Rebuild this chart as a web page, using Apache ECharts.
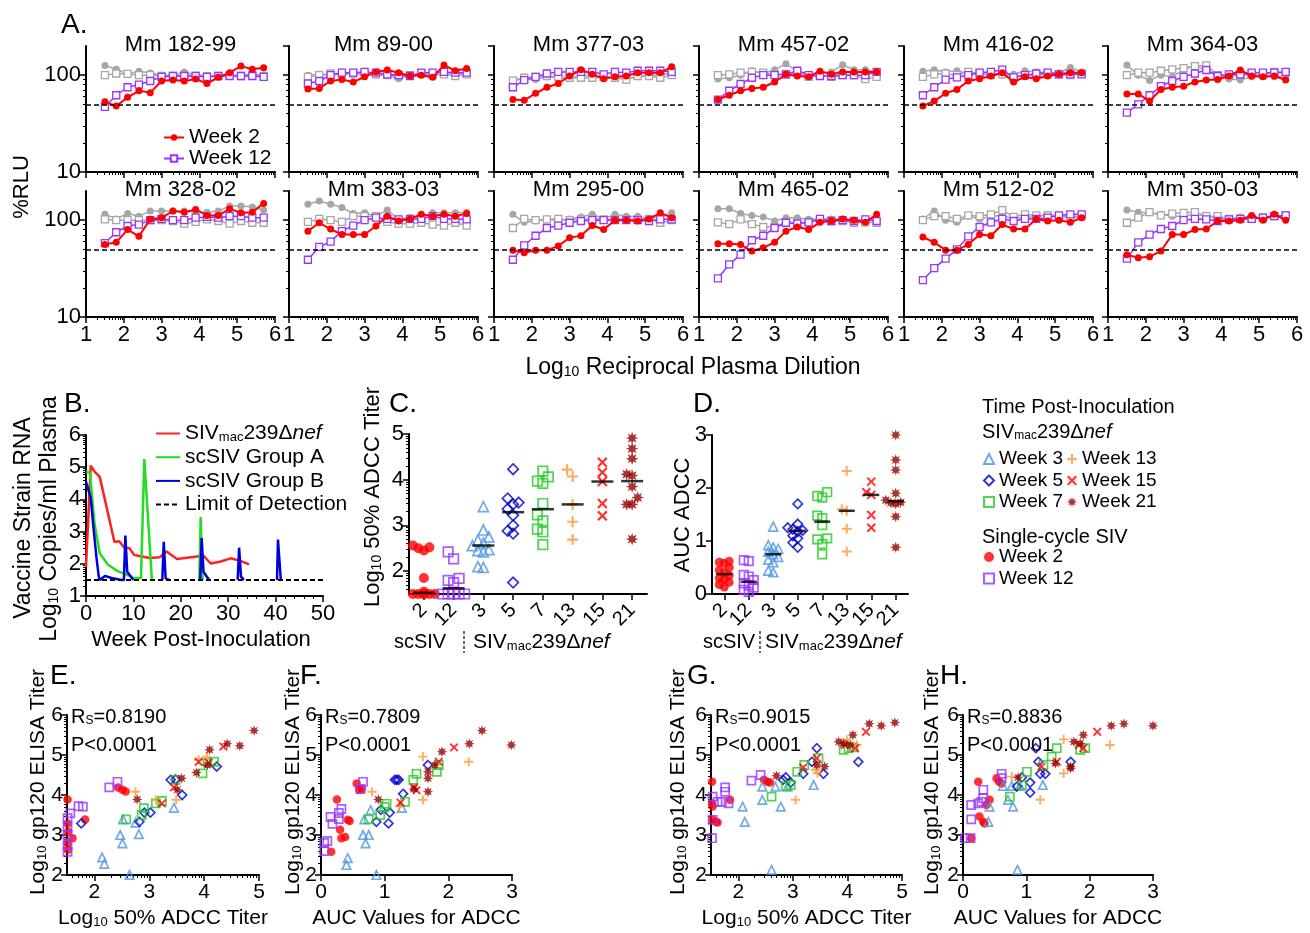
<!DOCTYPE html>
<html>
<head>
<meta charset="UTF-8">
<title>ADCC responses - SIV</title>
<script src="https://cdn.jsdelivr.net/npm/echarts@6/dist/echarts.min.js"></script>
<style>
  html, body { margin: 0; padding: 0; background: #fff; }
  #chart { width: 1310px; height: 933px; }
</style>
</head>
<body>
<div id="chart"></div>
<script>
var FONT = '"Liberation Sans", Arial, sans-serif';

// ---------- A: %RLU vs log10 reciprocal plasma dilution ----------
var animals = ['Mm 182-99', 'Mm 89-00', 'Mm 377-03', 'Mm 457-02', 'Mm 416-02', 'Mm 364-03',
               'Mm 328-02', 'Mm 383-03', 'Mm 295-00', 'Mm 465-02', 'Mm 512-02', 'Mm 350-03'];
var dilutionLog = [1.5, 1.8, 2.1, 2.4, 2.7, 3.0, 3.3, 3.6, 3.9, 4.2, 4.5, 4.8, 5.1, 5.4, 5.7];
var neutCutoff = 50;

var rluWeek2 = [
  [53, 48, 59, 69, 66, 87, 89, 87, 91, 82, 95, 106, 124, 115, 119],
  [72, 73, 87, 90, 85, 96, 108, 113, 106, 98, 100, 95, 127, 111, 117],
  [56, 55, 65, 75, 82, 98, 114, 102, 92, 96, 98, 106, 106, 106, 122],
  [56, 62, 69, 73, 75, 85, 102, 98, 96, 110, 102, 108, 108, 108, 108],
  [48, 54, 65, 71, 87, 92, 98, 106, 85, 96, 92, 98, 102, 106, 106],
  [64, 64, 54, 71, 75, 77, 85, 89, 90, 98, 113, 98, 96, 98, 89],
  [56, 59, 80, 68, 102, 106, 124, 121, 129, 112, 112, 131, 119, 121, 149],
  [77, 94, 81, 71, 71, 71, 87, 110, 98, 103, 115, 110, 115, 110, 117],
  [49, 46, 49, 49, 54, 66, 69, 88, 80, 100, 100, 98, 103, 119, 106],
  [57, 57, 56, 48, 52, 59, 77, 85, 80, 95, 98, 103, 100, 95, 115],
  [67, 59, 49, 49, 56, 71, 69, 90, 81, 81, 103, 98, 100, 95, 106],
  [44, 41, 42, 48, 71, 71, 80, 81, 98, 98, 100, 112, 100, 115, 100]
];
var rluWeek12 = [
  [47, 62, 75, 80, 87, 96, 98, 98, 98, 96, 98, 98, 98, 98, 96],
  [82, 87, 100, 106, 106, 108, 106, 102, 100, 98, 106, 106, 108, 106, 106],
  [75, 89, 96, 104, 108, 108, 108, 108, 102, 108, 106, 111, 111, 111, 108],
  [56, 69, 81, 94, 100, 100, 102, 111, 100, 98, 98, 100, 100, 100, 108],
  [62, 75, 90, 95, 100, 106, 108, 114, 95, 100, 104, 106, 102, 102, 102],
  [41, 50, 62, 77, 87, 96, 104, 113, 98, 102, 102, 106, 106, 106, 108],
  [58, 75, 87, 90, 100, 103, 100, 100, 106, 108, 106, 110, 110, 106, 106],
  [39, 53, 60, 77, 88, 100, 106, 103, 102, 103, 103, 110, 103, 103, 102],
  [39, 55, 69, 83, 88, 94, 98, 100, 100, 100, 100, 100, 98, 102, 102],
  [25, 35, 44, 62, 69, 83, 94, 92, 95, 103, 98, 100, 98, 102, 98],
  [24, 32, 40, 50, 68, 85, 95, 103, 98, 103, 103, 106, 112, 115, 115],
  [40, 59, 71, 81, 87, 100, 103, 102, 98, 102, 103, 103, 106, 110, 112]
];
var rluCtrl2 = [
  [126, 115, 103, 110, 105, 100, 100, 108, 100, 100, 98, 100, 100, 102, 100],
  [100, 102, 100, 104, 102, 104, 100, 100, 92, 100, 102, 100, 104, 106, 104],
  [88, 92, 90, 96, 94, 92, 100, 98, 96, 94, 92, 96, 98, 102, 104],
  [91, 94, 100, 111, 104, 114, 131, 111, 102, 106, 108, 128, 114, 114, 108],
  [110, 114, 108, 111, 104, 108, 106, 100, 102, 111, 108, 106, 106, 120, 108],
  [127, 100, 88, 100, 96, 114, 126, 111, 100, 91, 89, 96, 100, 96, 96],
  [115, 103, 117, 110, 124, 124, 124, 124, 121, 121, 124, 140, 140, 137, 127],
  [146, 158, 146, 135, 117, 119, 110, 127, 102, 106, 106, 119, 119, 119, 121],
  [115, 95, 98, 103, 98, 103, 108, 115, 103, 115, 110, 110, 103, 110, 119],
  [131, 131, 117, 112, 108, 98, 106, 106, 102, 103, 103, 102, 100, 98, 103],
  [103, 124, 100, 95, 110, 103, 110, 112, 103, 108, 108, 115, 110, 110, 110],
  [127, 121, 119, 115, 110, 110, 115, 110, 106, 103, 108, 106, 106, 110, 108]
];
var rluCtrl12 = [
  [100, 104, 103, 100, 100, 98, 98, 100, 98, 97, 98, 99, 98, 100, 98],
  [96, 100, 104, 102, 104, 104, 102, 100, 98, 100, 104, 100, 102, 98, 102],
  [88, 94, 96, 98, 96, 94, 94, 94, 96, 94, 90, 98, 98, 94, 100],
  [100, 102, 106, 108, 106, 102, 102, 106, 96, 100, 96, 100, 100, 91, 96],
  [96, 102, 104, 100, 108, 104, 100, 102, 95, 100, 100, 102, 102, 100, 104],
  [100, 106, 106, 111, 115, 118, 124, 126, 100, 98, 100, 102, 100, 108, 106],
  [102, 100, 100, 100, 100, 100, 98, 92, 96, 102, 98, 92, 98, 94, 94],
  [96, 103, 100, 96, 110, 110, 110, 96, 92, 92, 94, 90, 88, 94, 88],
  [83, 103, 100, 102, 103, 100, 102, 103, 102, 102, 102, 102, 103, 94, 100],
  [95, 91, 102, 91, 85, 85, 95, 94, 95, 100, 98, 98, 94, 95, 94],
  [100, 110, 110, 103, 112, 110, 115, 127, 108, 115, 112, 112, 110, 106, 110],
  [94, 106, 121, 112, 117, 119, 121, 110, 110, 103, 103, 103, 106, 110, 112]
];

// ---------- B: vaccine strain RNA (log10 copies/ml) vs week ----------
var bDnef = [[0, 1.9], [1, 5.05], [1.8, 4.86], [2.9, 4.7], [6, 2.68], [7, 2.7], [8.1, 2.5], [9.2, 2.48],
  [10.2, 2.27], [11.3, 2.24], [13.4, 2.18], [15.5, 2.2], [17, 2.38], [19.2, 2.15], [21.3, 2.19],
  [24.8, 2.25], [26.3, 2.01], [28.4, 2.07], [30.5, 2.17], [32.6, 2.09], [34.4, 1.98]];
var bGroupA = [[0, 4.85], [0.8, 4.85], [1.5, 3.75], [1.8, 3.25], [2.9, 2.33], [4.6, 1.98], [6.7, 1.77],
  [8.8, 1.65], [9.9, 1.57], [11.6, 1.55], [12.3, 5.25], [13.9, 1.5], null,
  [23.9, 1.5], [24.2, 3.45], [24.6, 1.5]];
var bGroupB = [[0, 4.55], [0.3, 4.6], [1, 4.05], [1.5, 3.25], [2.2, 2.2], [2.7, 1.6], [2.9, 1.5], [4, 1.62],
  [5.4, 1.56], [7.5, 1.5], [8, 1.5], [8.3, 2.88], [8.7, 1.75], [10, 1.5], null,
  [16.1, 1.5], [16.4, 2.68], [16.8, 1.55], [17.5, 1.5], null,
  [24.1, 1.5], [24.4, 2.8], [24.8, 1.75], [25.5, 1.6], [26, 1.5], null,
  [32, 1.5], [32.3, 2.5], [32.7, 1.6], [33.3, 1.5], null,
  [40.3, 1.5], [40.5, 2.75], [40.8, 2.75], [41.1, 1.5]];
var lod = 1.5;

// ---------- groups (C-H) ----------
var groupKeys = ['sc2', 'sc12', 'd3', 'd5', 'd7', 'd13', 'd15', 'd21'];
var groupLabels = ['Week 2', 'Week 12', 'Week 3', 'Week 5', 'Week 7', 'Week 13', 'Week 15', 'Week 21'];
var weekCats = ['2', '12', '3', '5', '7', '13', '15', '21'];

// C: log10 50% ADCC titer
var cTiter = [
  [2.56, 2.52, 2.5, 2.45, 1.85, 1.55, 1.5, 1.5, 1.5, 1.5, 1.5, 1.5],
  [2.42, 2.27, 1.84, 1.8, 1.75, 1.5, 1.5, 1.5, 1.5, 1.5],
  [3.41, 2.9, 2.75, 2.68, 2.62, 2.56, 2.47, 2.45, 2.42, 2.1, 2.08],
  [4.23, 3.59, 3.5, 3.46, 3.36, 3.22, 3.0, 2.88, 2.82, 1.75],
  [4.19, 4.06, 3.97, 3.92, 3.48, 3.23, 3.1, 2.92, 2.86, 2.58],
  [4.22, 4.07, 3.46, 3.08, 2.69],
  [4.38, 4.16, 3.96, 3.48, 3.21],
  [4.91, 4.68, 4.46, 4.12, 4.09, 3.85, 3.61, 3.46, 3.46, 2.7]
];
// D: AUC ADCC
var dAUC = [
  [0.62, 0.6, 0.58, 0.5, 0.45, 0.4, 0.35, 0.3, 0.28, 0.22, 0.18, 0.13],
  [0.64, 0.62, 0.36, 0.33, 0.26, 0.2, 0.16, 0.12, 0.08, 0.04],
  [1.27, 0.92, 0.88, 0.85, 0.8, 0.75, 0.7, 0.65, 0.6, 0.44, 0.41],
  [1.7, 1.32, 1.25, 1.22, 1.2, 1.18, 1.1, 1.05, 0.97, 0.88],
  [1.92, 1.85, 1.82, 1.48, 1.43, 1.3, 1.05, 1.03, 0.94, 0.75],
  [2.32, 1.6, 1.57, 1.23, 0.8],
  [2.12, 1.92, 1.87, 1.49, 1.25],
  [3.0, 2.53, 2.34, 1.9, 1.77, 1.73, 1.72, 1.7, 1.46, 0.88]
];

// E: gp120 ELISA vs log10 ADCC titer
var ePts = [
  [[1.51, 3.89], [1.51, 3.29], [1.52, 3.08], [1.6, 2.92], [1.52, 2.63], [1.51, 2.79], [1.83, 3.39], [2.43, 4.19], [2.51, 4.13], [2.57, 4.09]],
  [[1.56, 3.54], [1.51, 3.42], [1.51, 3.21], [1.51, 3.0], [1.51, 2.75], [1.51, 2.58], [1.71, 3.72], [1.79, 3.71], [2.27, 4.19], [2.42, 4.33]],
  [[2.14, 2.44], [2.18, 2.28], [2.47, 3.0], [2.51, 2.79], [2.52, 3.39], [2.64, 2.0], [2.81, 3.02], [2.75, 3.31], [3.45, 3.68]],
  [[1.76, 3.29], [2.82, 3.33], [2.91, 3.56], [3.02, 3.56], [3.39, 4.38], [3.48, 4.39], [3.6, 4.0], [4.23, 4.71]],
  [[2.58, 3.39], [2.86, 3.5], [2.9, 3.67], [3.12, 3.79], [3.23, 3.85], [3.48, 4.38], [3.97, 4.54], [4.06, 4.81], [4.18, 4.83]],
  [[2.75, 4.08], [3.12, 3.88], [3.49, 3.88], [3.9, 4.88], [4.05, 4.96]],
  [[3.23, 3.79], [3.45, 4.19], [3.9, 4.83], [4.08, 4.81], [4.35, 5.21]],
  [[2.78, 3.89], [3.51, 4.13], [3.59, 4.42], [3.86, 4.56], [4.06, 4.75], [4.1, 5.13], [4.42, 5.28], [4.65, 5.23], [4.91, 5.61]]
];
// F: gp120 ELISA vs AUC
var fPts = [
  [[0.25, 3.89], [0.3, 3.13], [0.32, 2.92], [0.38, 2.95], [0.42, 3.38], [0.45, 3.35], [0.16, 2.58], [0.56, 4.29], [0.6, 4.13], [0.64, 4.15]],
  [[0.05, 2.8], [0.1, 2.85], [0.05, 2.6], [0.15, 3.45], [0.18, 3.28], [0.28, 3.55], [0.32, 3.65], [0.28, 3.4], [0.62, 4.15], [0.66, 4.33]],
  [[0.42, 2.42], [0.4, 2.25], [0.66, 3.0], [0.7, 2.79], [0.68, 3.39], [0.87, 2.0], [0.75, 3.0], [0.78, 3.62], [1.27, 3.68]],
  [[0.87, 3.33], [0.94, 3.63], [1.06, 3.29], [1.08, 3.56], [1.16, 4.38], [1.19, 4.38], [1.22, 4.38], [1.29, 4.03], [1.68, 4.75]],
  [[0.75, 3.39], [0.93, 3.5], [1.0, 3.7], [1.03, 3.78], [1.32, 3.83], [1.45, 4.38], [1.5, 4.53], [1.82, 4.58], [1.85, 4.75]],
  [[0.8, 4.08], [1.23, 3.72], [1.6, 3.88], [1.6, 4.96], [2.32, 4.83]],
  [[1.25, 3.81], [1.46, 4.19], [1.85, 4.83], [2.09, 5.19], [1.5, 4.12]],
  [[0.9, 3.89], [1.46, 4.15], [1.68, 4.08], [1.68, 4.42], [1.68, 4.58], [1.79, 4.75], [1.9, 5.08], [2.33, 5.28], [2.53, 5.61], [2.99, 5.25]]
];
// G: gp140 ELISA vs log10 ADCC titer
var gPts = [
  [[1.52, 4.33], [1.52, 3.79], [1.53, 3.71], [1.59, 3.33], [1.62, 3.31], [1.85, 3.88], [2.47, 4.38], [2.53, 4.33], [2.58, 4.31], [1.53, 3.38]],
  [[1.52, 2.92], [1.53, 3.38], [1.53, 3.96], [1.62, 3.83], [1.7, 3.83], [1.76, 4.19], [1.76, 4.08], [1.82, 3.79], [2.24, 4.36], [2.41, 4.5]],
  [[2.08, 3.71], [2.12, 3.33], [2.44, 4.21], [2.44, 3.88], [2.61, 2.13], [2.78, 3.71], [2.68, 4.21], [2.9, 4.21], [3.38, 4.25]],
  [[2.87, 4.44], [2.96, 4.31], [3.19, 4.53], [3.35, 4.83], [3.44, 5.17], [3.56, 4.53], [4.2, 4.83], [2.82, 4.38]],
  [[2.61, 3.96], [2.87, 4.22], [2.96, 4.25], [3.08, 4.58], [3.21, 4.75], [3.47, 4.92], [3.93, 5.13], [4.02, 5.17], [4.11, 5.19]],
  [[3.05, 3.88], [3.42, 4.63], [3.99, 5.38], [4.17, 5.25], [3.45, 4.55]],
  [[3.19, 4.69], [3.44, 4.92], [4.14, 5.17], [4.34, 5.58], [3.95, 5.25]],
  [[2.7, 4.48], [3.44, 4.75], [3.58, 4.71], [3.84, 5.33], [3.93, 5.29], [4.05, 5.25], [4.1, 5.5], [4.4, 5.78], [4.62, 5.73], [4.87, 5.81]]
];
// H: gp140 ELISA vs AUC
var hPts = [
  [[0.24, 4.33], [0.26, 3.46], [0.32, 3.33], [0.34, 3.29], [0.42, 3.88], [0.53, 4.42], [0.57, 4.33], [0.61, 4.29], [0.37, 3.75], [0.13, 2.92]],
  [[0.03, 2.92], [0.12, 2.92], [0.13, 3.39], [0.13, 3.75], [0.24, 3.79], [0.32, 4.13], [0.32, 3.92], [0.29, 3.83], [0.61, 4.53], [0.61, 4.42]],
  [[0.42, 3.71], [0.4, 3.33], [0.63, 4.23], [0.71, 3.88], [0.77, 4.23], [0.79, 3.71], [0.86, 2.13], [0.9, 4.23], [1.26, 4.25]],
  [[0.85, 4.21], [0.93, 4.44], [1.06, 4.31], [1.06, 4.06], [1.15, 5.17], [1.19, 4.83], [1.22, 4.53], [1.3, 4.53], [1.7, 4.83]],
  [[0.74, 3.96], [0.93, 4.25], [1.01, 4.58], [1.27, 4.75], [1.4, 4.96], [1.48, 5.17], [1.85, 5.13], [1.93, 5.17]],
  [[0.77, 4.46], [1.22, 3.88], [1.59, 5.39], [1.59, 4.54], [2.32, 5.25]],
  [[1.24, 4.71], [1.48, 4.83], [1.9, 5.17], [2.12, 5.58], [1.83, 5.25]],
  [[0.87, 4.44], [1.46, 4.79], [1.7, 4.67], [1.75, 5.33], [1.85, 5.29], [1.9, 5.5], [2.34, 5.73], [2.54, 5.78], [3.0, 5.73], [1.7, 4.71]]
];
var rsValues = ['0.8190', '0.7809', '0.9015', '0.8836'];
var pValues = ['P<0.0001', 'P<0.0001', 'P<0.0001', 'P<0.0001'];

// ---------- styles ----------
var RED = '#ff0000', PURPLE = '#9933ff', GRAY = '#a6a6a6';
var PLUS = 'path://M-1,-5L1,-5L1,-1L5,-1L5,1L1,1L1,5L-1,5L-1,1L-5,1L-5,-1L-1,-1Z';
var CROSS = 'path://M-5,-3.5L-3.5,-5L0,-1.5L3.5,-5L5,-3.5L1.5,0L5,3.5L3.5,5L0,1.5L-3.5,5L-5,3.5L-1.5,0Z';
function starPath() {
  var d = '';
  for (var k = 0; k < 16; k++) {
    var r = k % 2 ? 0.5 : 1, a = k * Math.PI / 8;
    d += (k ? 'L' : 'M') + (r * Math.sin(a)).toFixed(3) + ',' + (-r * Math.cos(a)).toFixed(3);
  }
  return 'path://' + d + 'Z';
}
var STAR = starPath();
var groupColors = ['#ff0000', '#9933ff', '#4f95e3', '#0000cc', '#22cc22', '#ff9933', '#ff0000', '#990000'];
var groupSymbols = ['circle', 'rect', 'triangle', 'diamond', 'rect', PLUS, CROSS, STAR];
var groupFilled = [true, false, false, false, false, true, true, true];
var groupScale = [1, 0.95, 1, 1.05, 0.95, 1.1, 1.05, 1.25];

var grids = [], xAxes = [], yAxes = [], series = [], graphics = [], legends = [];

function lbl(fs, extra) {
  var o = { color: '#000', fontSize: fs, fontFamily: FONT, margin: 5 };
  for (var k in extra) o[k] = extra[k];
  return o;
}
function tick(extra) {
  var o = { show: true, length: 6, inside: false, lineStyle: { color: '#000', width: 1.5 } };
  for (var k in extra) o[k] = extra[k];
  return o;
}
function logMinor(lo, hi) {
  var v = [];
  for (var k = Math.floor(lo); k < hi; k++) {
    for (var m = 2; m <= 9; m++) {
      var t = k + Math.log10(m);
      if (t > lo + 1e-6 && t < hi - 1e-6) v.push(t);
    }
  }
  return v;
}
function minorAxis(gi, spec, pos) {
  return {
    type: 'value', gridIndex: gi, min: spec.min, max: spec.max, position: pos,
    axisLine: { show: false, onZero: false }, axisLabel: { show: false }, splitLine: { show: false },
    axisTick: { show: true, length: 3, customValues: spec.values, lineStyle: { color: '#000', width: 1 } }
  };
}
function addPanel(box, xOpt, yOpt, xMinor, yMinor) {
  var gi = grids.length;
  grids.push({ left: box[0], top: box[1], width: box[2], height: box[3], containLabel: false, outerBoundsMode: 'none' });
  var base = function () {
    return { axisLine: { show: true, onZero: false, lineStyle: { color: '#000', width: 2 } },
             axisTick: tick(), splitLine: { show: false } };
  };
  var xi = xAxes.length, x = base(), y = base(), k;
  for (k in xOpt) x[k] = xOpt[k];
  x.gridIndex = gi; x.position = 'bottom';
  xAxes.push(x);
  if (xMinor) xAxes.push(minorAxis(gi, xMinor, 'bottom'));
  var yi = yAxes.length;
  for (k in yOpt) y[k] = yOpt[k];
  y.gridIndex = gi; y.position = 'left';
  yAxes.push(y);
  if (yMinor) yAxes.push(minorAxis(gi, yMinor, 'left'));
  return { gi: gi, xi: xi, yi: yi };
}

function rich(fs) {
  var s = Math.round(fs * 0.62);
  return {
    n: { fontSize: fs, fontFamily: FONT, fill: '#000', color: '#000' },
    s: { fontSize: s, fontFamily: FONT, fill: '#000', color: '#000', verticalAlign: 'bottom', lineHeight: fs },
    i: { fontSize: fs, fontFamily: FONT, fill: '#000', color: '#000', fontStyle: 'italic' }
  };
}
function txt(x, y, text, fs, opt) {
  opt = opt || {};
  graphics.push({
    type: 'text', x: x, y: y, rotation: opt.rot || 0, z: 100, silent: true,
    style: { text: text, fontSize: fs, fontFamily: FONT, fill: '#000',
             align: opt.align || 'left', verticalAlign: 'middle', rich: rich(fs) }
  });
}
var LOG10 = function (rest) { return '{n|Log}{s|10}{n|' + rest + '}'; };
var SIVDNEF = '{n|SIV}{s|mac}{n|239Δ}{i|nef}';

// ================= Panel A =================
var aLeft = [86, 289, 494, 699, 904, 1108], aTop = [46, 191], aW = 189, aH = 126;
var yLogMinor = { min: 1, max: Math.log10(200), values: logMinor(1, Math.log10(200)) };
function pairs(vals) { return vals.map(function (v, i) { return [dilutionLog[i], v]; }); }
function lineSer(name, p, data, color, symbol, filled, lw, z) {
  return {
    type: 'line', name: name, xAxisIndex: p.xi, yAxisIndex: p.yi, data: data,
    symbol: symbol, symbolSize: 7, showSymbol: true, animation: false, z: z, clip: false,
    lineStyle: { color: color, width: lw },
    itemStyle: filled ? { color: color } : { color: '#fff', borderColor: color, borderWidth: 1.3 }
  };
}
animals.forEach(function (name, idx) {
  var row = idx < 6 ? 0 : 1, col = idx % 6;
  var p = addPanel([aLeft[col], aTop[row], aW, aH],
    { type: 'value', min: 1, max: 6, interval: 1, axisLabel: lbl(22, { show: row === 1, margin: 7 }) },
    { type: 'log', logBase: 10, min: 10, max: 200,
      axisLabel: lbl(22, { show: col === 0, showMaxLabel: false, margin: 5 }) },
    { min: 1, max: 6, values: logMinor(1, 6) }, yLogMinor);
  series.push(lineSer('ctl2', p, pairs(rluCtrl2[idx]), GRAY, 'circle', true, 1.5, 2));
  series.push(lineSer('ctl12', p, pairs(rluCtrl12[idx]), GRAY, 'rect', false, 1.5, 2));
  series.push(lineSer('Week 12', p, pairs(rluWeek12[idx]), PURPLE, 'rect', false, 1.5, 3));
  var red = lineSer('Week 2', p, pairs(rluWeek2[idx]), RED, 'circle', true, 2, 4);
  red.markLine = { silent: true, symbol: ['none', 'none'], label: { show: false }, animation: false,
    lineStyle: { type: [5, 3], color: '#000', width: 1.5 }, data: [{ yAxis: neutCutoff }] };
  series.push(red);
  txt(aLeft[col] + aW / 2, row === 0 ? 45 : 190, name, 22, { align: 'center' });
});
legends.push({
  left: 163, top: 127, orient: 'vertical', itemWidth: 20, itemHeight: 8, itemGap: 0, padding: 0,
  selectedMode: false, data: ['Week 2', 'Week 12'],
  textStyle: { fontSize: 21, fontFamily: FONT, color: '#000', lineHeight: 18.5 }
});
txt(61, 25, 'A.', 28);
txt(22, 187, '%RLU', 22, { align: 'center', rot: Math.PI / 2 });
txt(693, 368, LOG10(' Reciprocal Plasma Dilution'), 23, { align: 'center' });

// ================= Panel B =================
var pb = addPanel([86, 435, 237, 161],
  { type: 'value', min: 0, max: 50, interval: 10, axisLabel: lbl(22, { margin: 7 }),
    minorTick: { show: true, splitNumber: 5, length: 3, lineStyle: { color: '#000', width: 1 } } },
  { type: 'value', min: 1, max: 6, interval: 1, axisLabel: lbl(22, { margin: 5 }) },
  null, { min: 1, max: 6, values: logMinor(1, 6) });
function segments(arr) {
  var out = [[]];
  arr.forEach(function (pt) { if (pt === null) out.push([]); else out[out.length - 1].push(pt); });
  return out;
}
function bLine(name, data, color, z) {
  return { type: 'line', name: name, xAxisIndex: pb.xi, yAxisIndex: pb.yi, data: data, symbol: 'none',
    animation: false, z: z, clip: false, lineStyle: { color: color, width: 2.5 }, itemStyle: { color: color } };
}
series.push(bLine('dnef', bDnef, '#ff2020', 2));
segments(bGroupA).forEach(function (s) { series.push(bLine('groupA', s, '#22dd22', 3)); });
segments(bGroupB).forEach(function (s) { series.push(bLine('groupB', s, '#0000dd', 4)); });
series.push({
  type: 'line', name: 'lod', xAxisIndex: pb.xi, yAxisIndex: pb.yi, data: [], symbol: 'none', z: 5,
  lineStyle: { color: '#000', width: 2, type: [5, 3] }, itemStyle: { color: '#000' },
  markLine: { silent: true, symbol: ['none', 'none'], label: { show: false }, animation: false,
    lineStyle: { type: [5, 3], color: '#000', width: 2 }, data: [{ yAxis: lod }] }
});
var bNames = { dnef: SIVDNEF, groupA: 'scSIV Group A', groupB: 'scSIV Group B', lod: 'Limit of Detection' };
legends.push({
  left: 155, top: 423, orient: 'vertical', itemWidth: 24, itemHeight: 10, itemGap: 2.7, padding: 0,
  selectedMode: false, data: ['dnef', 'groupA', 'groupB', 'lod'],
  itemStyle: { opacity: 0, borderWidth: 0 },
  formatter: function (n) { return bNames[n]; },
  textStyle: { fontSize: 21, fontFamily: FONT, color: '#000', lineHeight: 21, rich: rich(21) }
});
txt(64, 404, 'B.', 28);
txt(24, 518, 'Vaccine Strain RNA', 23, { align: 'center', rot: Math.PI / 2 });
txt(50, 519, LOG10(' Copies/ml Plasma'), 23, { align: 'center', rot: Math.PI / 2 });
txt(201, 640, 'Week Post-Inoculation', 22, { align: 'center' });

// ================= Panels C & D =================
function groupItemStyle(g) {
  var c = groupColors[g];
  return groupFilled[g] ? { color: c } : { color: 'rgba(255,255,255,0)', borderColor: c, borderWidth: 1.7 };
}
function swarm(vals, pxPerUnit, size) {
  var order = vals.map(function (v, i) { return i; }).sort(function (a, b) { return vals[a] - vals[b]; });
  var placed = [], offs = [], cands = [0, -1, 1, -2, 2];
  order.forEach(function (i) {
    for (var c = 0; c < cands.length; c++) {
      var dx = cands[c] * size * 0.55;
      var clash = placed.some(function (q) {
        return Math.abs(q.dx - dx) < size * 0.5 && Math.abs(q.v - vals[i]) * pxPerUnit < size * 0.7;
      });
      if (!clash) { offs[i] = dx; placed.push({ dx: dx, v: vals[i] }); return; }
    }
    offs[i] = 0;
  });
  return offs;
}
function median(vals) {
  var s = vals.slice().sort(function (a, b) { return a - b; }), n = s.length;
  return n % 2 ? s[(n - 1) / 2] : (s[n / 2 - 1] + s[n / 2]) / 2;
}
function dotPanel(box, yOpt, yMinor, values, pxPerUnit, size, medW) {
  var p = addPanel(box,
    { type: 'category', data: weekCats, boundaryGap: true,
      axisTick: tick({ alignWithLabel: true }),
      axisLabel: lbl(20, { rotate: 45, interval: 0, margin: 13 }) },
    yOpt, null, yMinor);
  values.forEach(function (vals, g) {
    var offs = swarm(vals, pxPerUnit, size);
    series.push({
      type: 'scatter', name: groupKeys[g], xAxisIndex: p.xi, yAxisIndex: p.yi, animation: false, clip: false,
      symbol: groupSymbols[g], symbolSize: size * groupScale[g], itemStyle: groupItemStyle(g), z: 3,
      data: vals.map(function (v, i) { return { value: [g, v], symbolOffset: [offs[i], 0] }; })
    });
  });
  series.push({
    type: 'scatter', name: 'median', xAxisIndex: p.xi, yAxisIndex: p.yi, animation: false, clip: false,
    symbol: 'rect', symbolSize: [medW, 2.5], itemStyle: { color: '#000' }, z: 6,
    data: values.map(function (vals, g) { return [g, median(vals)]; })
  });
  return p;
}
dotPanel([409, 434, 238, 160],
  { type: 'value', min: 1.5, max: 5,
    axisLabel: lbl(22, { customValues: [2, 3, 4, 5], margin: 5 }),
    axisTick: tick({ customValues: [2, 3, 4, 5] }) },
  { min: 1.5, max: 5, values: logMinor(1.5, 5) }, cTiter, 45.5, 10, 22);
dotPanel([712, 435, 196, 159],
  { type: 'value', min: 0, max: 3, interval: 1, axisLabel: lbl(22, { margin: 5 }) },
  null, dAUC, 53, 9, 16);

txt(389, 404, 'C.', 28);
txt(373, 497, LOG10(' 50% ADCC Titer'), 22, { align: 'center', rot: Math.PI / 2 });
txt(420, 642, 'scSIV', 20, { align: 'center' });
txt(473, 642, SIVDNEF, 21);
txt(693, 404, 'D.', 28);
txt(683, 515, 'AUC ADCC', 22, { align: 'center', rot: Math.PI / 2 });
txt(729, 642, 'scSIV', 20, { align: 'center' });
txt(765, 642, SIVDNEF, 21);
[464, 760].forEach(function (x) {
  graphics.push({ type: 'line', silent: true, z: 100, shape: { x1: x, y1: 631, x2: x, y2: 653 },
    style: { stroke: '#000', lineWidth: 1.2, lineDash: [3, 2] } });
});

// right-hand legend
var groupName = {};
groupKeys.forEach(function (k, i) { groupName[k] = groupLabels[i]; });
function groupLegend(left, top, keys) {
  legends.push({
    left: left, top: top, orient: 'vertical', itemWidth: 10, itemHeight: 10, itemGap: 1.5, padding: 0,
    selectedMode: false, data: keys, formatter: function (n) { return groupName[n]; },
    textStyle: { fontSize: 19, fontFamily: FONT, color: '#000', lineHeight: 20 }
  });
}
groupLegend(983, 449, ['d3', 'd5', 'd7']);
groupLegend(1067, 449, ['d13', 'd15', 'd21']);
groupLegend(983, 547, ['sc2', 'sc12']);
txt(982, 407, 'Time Post-Inoculation', 20);
txt(982, 432, SIVDNEF, 20);
txt(982, 537, 'Single-cycle SIV', 20);

// ================= Panels E-H =================
var ehBoxes = [[67, 715, 192, 160], [321, 715, 191, 160], [711, 715, 191, 160], [963, 715, 190, 160]];
var ehPts = [ePts, fPts, gPts, hPts];
var ehLetters = ['E.', 'F.', 'G.', 'H.'];
var ehLetterX = [50, 300, 687, 940];
var ehTitleX = [38, 293, 678, 932];
var ehAntigen = ['gp120', 'gp120', 'gp140', 'gp140'];
ehBoxes.forEach(function (box, k) {
  var isTiter = (k % 2 === 0);
  var xOpt = isTiter
    ? { type: 'value', min: 1.5, max: 5, axisLabel: lbl(21, { customValues: [2, 3, 4, 5], margin: 7 }),
        axisTick: tick({ customValues: [2, 3, 4, 5] }) }
    : { type: 'value', min: 0, max: 3, interval: 1, axisLabel: lbl(21, { margin: 7 }) };
  var p = addPanel(box, xOpt,
    { type: 'value', min: 2, max: 6, interval: 1, axisLabel: lbl(21, { margin: 4 }) },
    isTiter ? { min: 1.5, max: 5, values: logMinor(1.5, 5) } : null,
    { min: 2, max: 6, values: logMinor(2, 6) });
  ehPts[k].forEach(function (pts, g) {
    series.push({
      type: 'scatter', name: groupKeys[g], xAxisIndex: p.xi, yAxisIndex: p.yi, animation: false, clip: false,
      symbol: groupSymbols[g], symbolSize: 8.5 * groupScale[g], itemStyle: groupItemStyle(g), z: 3 + g * 0.1,
      data: pts
    });
  });
  txt(ehLetterX[k], 676, ehLetters[k], 28);
  txt(box[0] + 4, 717, '{n|R}{s|S}{n|=' + rsValues[k] + '}', 20);
  txt(box[0] + 4, 745, pValues[k], 20);
  txt(ehTitleX[k], 782, LOG10(' ' + ehAntigen[k] + ' ELISA Titer'), 21, { align: 'center', rot: Math.PI / 2 });
  txt(box[0] + box[2] / 2, 918, isTiter ? LOG10(' 50% ADCC Titer') : 'AUC Values for ADCC', 21, { align: 'center' });
});

var chart = echarts.init(document.getElementById('chart'));
chart.setOption({
  animation: false,
  textStyle: { fontFamily: FONT },
  grid: grids,
  xAxis: xAxes,
  yAxis: yAxes,
  legend: legends,
  series: series,
  graphic: { elements: graphics }
});
</script>
</body>
</html>
